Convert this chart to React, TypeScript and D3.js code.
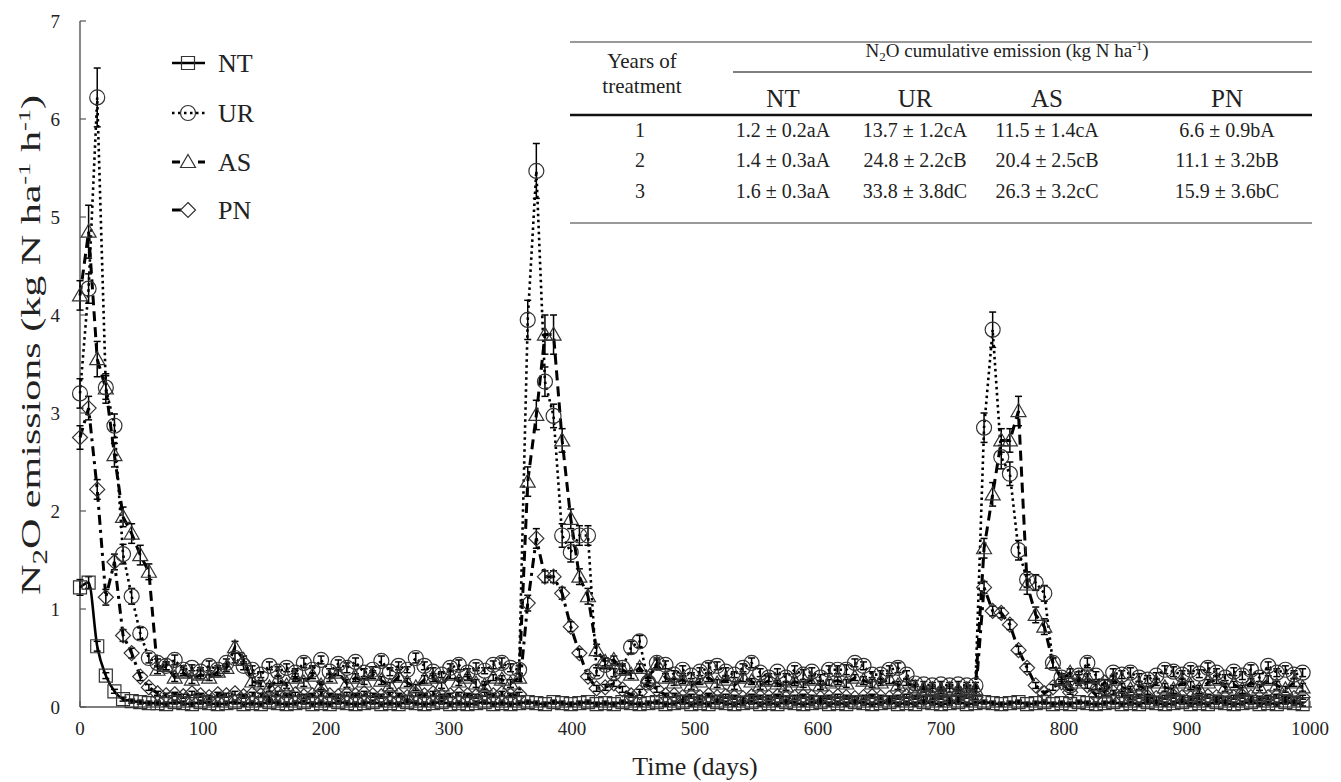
import React from "react";
import * as d3 from "d3";

// ---------------- DATA ----------------
const DAYS = [
  0, 7, 14, 21, 28, 35, 42, 49, 56, 63,
  70, 77, 84, 91, 98, 105, 112, 119, 126, 133,
  140, 147, 154, 161, 168, 175, 182, 189, 196, 203,
  210, 217, 224, 231, 238, 245, 252, 259, 266, 273,
  280, 287, 294, 301, 308, 315, 322, 329, 336, 343,
  350, 357, 364, 371, 378, 385, 392, 399, 406, 413,
  420, 427, 434, 441, 448, 455, 462, 469, 476, 483,
  490, 497, 504, 511, 518, 525, 532, 539, 546, 553,
  560, 567, 574, 581, 588, 595, 602, 609, 616, 623,
  630, 637, 644, 651, 658, 665, 672, 679, 686, 693,
  700, 707, 714, 721, 728, 735, 742, 749, 756, 763,
  770, 777, 784, 791, 798, 805, 812, 819, 826, 833,
  840, 847, 854, 861, 868, 875, 882, 889, 896, 903,
  910, 917, 924, 931, 938, 945, 952, 959, 966, 973,
  980, 987, 994,
];

const NT = [
  1.22, 1.27, 0.62, 0.32, 0.16, 0.08, 0.06, 0.05, 0.04, 0.04,
  0.03, 0.05, 0.04, 0.03, 0.05, 0.04, 0.03, 0.04, 0.05, 0.03,
  0.04, 0.03, 0.05, 0.04, 0.03, 0.04, 0.05, 0.03, 0.04, 0.03,
  0.05, 0.04, 0.03, 0.04, 0.05, 0.03, 0.04, 0.03, 0.05, 0.04,
  0.03, 0.04, 0.05, 0.03, 0.04, 0.03, 0.04, 0.05, 0.03, 0.04,
  0.03, 0.04, 0.05, 0.04, 0.03, 0.05, 0.04, 0.03, 0.04, 0.05,
  0.03, 0.04, 0.03, 0.05, 0.04, 0.03, 0.04, 0.05, 0.03, 0.04,
  0.05, 0.03, 0.04, 0.03, 0.05, 0.04, 0.03, 0.04, 0.05, 0.03,
  0.04, 0.03, 0.05, 0.04, 0.03, 0.04, 0.05, 0.03, 0.04, 0.03,
  0.05, 0.04, 0.03, 0.04, 0.05, 0.03, 0.04, 0.03, 0.05, 0.04,
  0.03, 0.04, 0.05, 0.03, 0.04, 0.05, 0.04, 0.03, 0.04, 0.05,
  0.03, 0.04, 0.05, 0.03, 0.04, 0.03, 0.05, 0.04, 0.03, 0.04,
  0.05, 0.03, 0.04, 0.03, 0.05, 0.04, 0.03, 0.04, 0.05, 0.03,
  0.04, 0.03, 0.05, 0.04, 0.03, 0.04, 0.05, 0.03, 0.04, 0.03,
  0.05, 0.04, 0.03,
];
const NT_ERR = [
  0.08, 0.06, 0.05, 0.03, 0.02, 0.02, 0.02, 0.02, 0.02, 0.02,
  0.02, 0.02, 0.02, 0.02, 0.02, 0.02, 0.02, 0.02, 0.02, 0.02,
  0.02, 0.02, 0.02, 0.02, 0.02, 0.02, 0.02, 0.02, 0.02, 0.02,
  0.02, 0.02, 0.02, 0.02, 0.02, 0.02, 0.02, 0.02, 0.02, 0.02,
  0.02, 0.02, 0.02, 0.02, 0.02, 0.02, 0.02, 0.02, 0.02, 0.02,
  0.02, 0.02, 0.02, 0.02, 0.02, 0.02, 0.02, 0.02, 0.02, 0.02,
  0.02, 0.02, 0.02, 0.02, 0.02, 0.02, 0.02, 0.02, 0.02, 0.02,
  0.02, 0.02, 0.02, 0.02, 0.02, 0.02, 0.02, 0.02, 0.02, 0.02,
  0.02, 0.02, 0.02, 0.02, 0.02, 0.02, 0.02, 0.02, 0.02, 0.02,
  0.02, 0.02, 0.02, 0.02, 0.02, 0.02, 0.02, 0.02, 0.02, 0.02,
  0.02, 0.02, 0.02, 0.02, 0.02, 0.02, 0.02, 0.02, 0.02, 0.02,
  0.02, 0.02, 0.02, 0.02, 0.02, 0.02, 0.02, 0.02, 0.02, 0.02,
  0.02, 0.02, 0.02, 0.02, 0.02, 0.02, 0.02, 0.02, 0.02, 0.02,
  0.02, 0.02, 0.02, 0.02, 0.02, 0.02, 0.02, 0.02, 0.02, 0.02,
  0.02, 0.02, 0.02,
];

const UR = [
  3.2, 4.27, 6.22, 3.26, 2.87, 1.56, 1.13, 0.75, 0.5, 0.45,
  0.42, 0.48, 0.38, 0.4, 0.36, 0.42, 0.38, 0.45, 0.5, 0.42,
  0.38, 0.33, 0.42, 0.36, 0.4, 0.35, 0.45, 0.38, 0.48, 0.36,
  0.44, 0.4, 0.46, 0.35, 0.38, 0.47, 0.36, 0.42, 0.38, 0.5,
  0.42, 0.36, 0.33, 0.4, 0.43, 0.35, 0.41, 0.37, 0.43, 0.45,
  0.4, 0.38, 3.95, 5.47, 3.32, 2.97, 1.75, 1.58, 1.75, 1.75,
  0.36, 0.43, 0.35, 0.4, 0.61, 0.67, 0.25, 0.45, 0.43, 0.33,
  0.38, 0.32, 0.36, 0.4, 0.42, 0.36, 0.33, 0.4, 0.45, 0.35,
  0.3, 0.36, 0.3, 0.38, 0.33, 0.36, 0.3, 0.38, 0.38, 0.38,
  0.45, 0.42, 0.33, 0.33, 0.38, 0.4, 0.33, 0.24, 0.23, 0.22,
  0.23, 0.22, 0.23, 0.22, 0.22, 2.85, 3.85, 2.55, 2.38, 1.6,
  1.3, 1.27, 1.16, 0.45, 0.3, 0.22, 0.32, 0.45, 0.32, 0.2,
  0.35, 0.33, 0.35, 0.3, 0.28, 0.32, 0.38, 0.36, 0.33, 0.38,
  0.34, 0.4, 0.35, 0.3, 0.36, 0.32, 0.38, 0.3, 0.42, 0.35,
  0.38, 0.33, 0.35,
];
const UR_ERR = [
  0.15, 0.15, 0.3, 0.12, 0.12, 0.1, 0.08, 0.06, 0.05, 0.04,
  0.04, 0.05, 0.04, 0.03, 0.04, 0.05, 0.04, 0.04, 0.05, 0.04,
  0.04, 0.03, 0.04, 0.05, 0.04, 0.04, 0.05, 0.04, 0.04, 0.03,
  0.04, 0.05, 0.04, 0.04, 0.03, 0.05, 0.04, 0.04, 0.03, 0.05,
  0.04, 0.04, 0.03, 0.04, 0.05, 0.04, 0.04, 0.03, 0.04, 0.05,
  0.04, 0.04, 0.2, 0.28, 0.15, 0.12, 0.12, 0.1, 0.1, 0.1,
  0.04, 0.04, 0.04, 0.04, 0.06, 0.06, 0.04, 0.05, 0.04, 0.04,
  0.04, 0.03, 0.04, 0.05, 0.04, 0.04, 0.03, 0.04, 0.05, 0.04,
  0.04, 0.03, 0.04, 0.04, 0.05, 0.04, 0.03, 0.04, 0.04, 0.05,
  0.04, 0.04, 0.03, 0.04, 0.04, 0.05, 0.04, 0.03, 0.03, 0.03,
  0.03, 0.03, 0.03, 0.03, 0.03, 0.15, 0.18, 0.12, 0.12, 0.1,
  0.08, 0.08, 0.08, 0.05, 0.04, 0.04, 0.04, 0.05, 0.04, 0.04,
  0.04, 0.04, 0.05, 0.04, 0.04, 0.03, 0.04, 0.05, 0.04, 0.04,
  0.04, 0.05, 0.04, 0.03, 0.04, 0.04, 0.05, 0.04, 0.04, 0.04,
  0.04, 0.04, 0.04,
];

const AS = [
  4.2, 4.85, 3.55, 3.25, 2.57, 1.94, 1.77, 1.55, 1.38, 0.38,
  0.42, 0.3, 0.35, 0.28, 0.33, 0.3, 0.36, 0.4, 0.61, 0.48,
  0.26, 0.24, 0.2, 0.28, 0.22, 0.3, 0.25, 0.32, 0.22, 0.3,
  0.35, 0.24, 0.3, 0.26, 0.33, 0.27, 0.22, 0.31, 0.25, 0.2,
  0.28, 0.3, 0.22, 0.33, 0.26, 0.3, 0.24, 0.22, 0.3, 0.28,
  0.24, 0.3, 2.3, 2.98, 3.8, 3.8, 2.72, 1.92, 1.33, 1.13,
  0.58, 0.46, 0.48, 0.38, 0.33, 0.4, 0.3, 0.44, 0.3, 0.25,
  0.28, 0.22, 0.26, 0.3, 0.24, 0.28, 0.22, 0.3, 0.26, 0.22,
  0.27, 0.24, 0.21, 0.26, 0.23, 0.28, 0.22, 0.25, 0.27, 0.24,
  0.3, 0.27, 0.24, 0.25, 0.28, 0.22, 0.25, 0.2, 0.18, 0.18,
  0.17, 0.18, 0.17, 0.18, 0.18, 1.62, 2.17, 2.72, 2.72, 3.02,
  1.25, 0.94, 0.82, 0.45, 0.28, 0.35, 0.25, 0.3, 0.22, 0.15,
  0.28, 0.2, 0.18, 0.22, 0.17, 0.25, 0.2, 0.18, 0.25, 0.22,
  0.18, 0.25, 0.28, 0.2, 0.23, 0.18, 0.25, 0.2, 0.28, 0.22,
  0.18, 0.25, 0.2,
];
const AS_ERR = [
  0.15, 0.27, 0.18, 0.15, 0.12, 0.1, 0.1, 0.1, 0.08, 0.04,
  0.04, 0.04, 0.03, 0.04, 0.04, 0.03, 0.04, 0.04, 0.06, 0.04,
  0.04, 0.03, 0.04, 0.04, 0.03, 0.04, 0.04, 0.03, 0.04, 0.04,
  0.03, 0.04, 0.04, 0.03, 0.04, 0.04, 0.03, 0.04, 0.04, 0.03,
  0.04, 0.04, 0.03, 0.04, 0.04, 0.03, 0.04, 0.04, 0.03, 0.04,
  0.04, 0.04, 0.15, 0.15, 0.2, 0.2, 0.12, 0.1, 0.08, 0.08,
  0.06, 0.04, 0.04, 0.04, 0.04, 0.04, 0.03, 0.04, 0.04, 0.03,
  0.04, 0.04, 0.03, 0.04, 0.04, 0.03, 0.04, 0.04, 0.03, 0.04,
  0.04, 0.03, 0.04, 0.04, 0.03, 0.04, 0.04, 0.03, 0.04, 0.04,
  0.03, 0.04, 0.04, 0.03, 0.04, 0.04, 0.03, 0.03, 0.03, 0.03,
  0.03, 0.03, 0.03, 0.03, 0.03, 0.1, 0.12, 0.12, 0.12, 0.15,
  0.1, 0.08, 0.08, 0.05, 0.04, 0.04, 0.03, 0.04, 0.04, 0.03,
  0.04, 0.04, 0.03, 0.04, 0.04, 0.03, 0.04, 0.04, 0.03, 0.04,
  0.04, 0.03, 0.04, 0.04, 0.03, 0.04, 0.04, 0.03, 0.04, 0.04,
  0.03, 0.04, 0.04,
];

const PN = [
  2.75, 3.05, 2.22, 1.12, 1.48, 0.73, 0.55, 0.31, 0.2, 0.14,
  0.12, 0.13, 0.11, 0.14, 0.12, 0.1, 0.13, 0.12, 0.14, 0.11,
  0.13, 0.12, 0.1, 0.14, 0.12, 0.13, 0.11, 0.12, 0.14, 0.12,
  0.11, 0.13, 0.12, 0.14, 0.12, 0.11, 0.13, 0.12, 0.1, 0.13,
  0.12, 0.14, 0.11, 0.12, 0.13, 0.12, 0.11, 0.13, 0.12, 0.14,
  0.12, 0.13, 1.06, 1.72, 1.33, 1.33, 1.16, 0.82, 0.55, 0.31,
  0.19, 0.2, 0.24, 0.18, 0.12, 0.15, 0.26, 0.18, 0.12, 0.12,
  0.1, 0.11, 0.1, 0.12, 0.1, 0.11, 0.1, 0.09, 0.11, 0.1,
  0.1, 0.11, 0.09, 0.1, 0.11, 0.1, 0.09, 0.1, 0.11, 0.1,
  0.09, 0.1, 0.11, 0.1, 0.09, 0.1, 0.11, 0.1, 0.09, 0.1,
  0.1, 0.09, 0.1, 0.11, 0.1, 1.22, 0.98, 0.96, 0.84, 0.58,
  0.4, 0.22, 0.14, 0.2, 0.25, 0.15, 0.3, 0.22, 0.12, 0.25,
  0.15, 0.12, 0.1, 0.11, 0.1, 0.09, 0.1, 0.11, 0.1, 0.09,
  0.1, 0.11, 0.1, 0.09, 0.1, 0.11, 0.1, 0.09, 0.1, 0.11,
  0.1, 0.09, 0.1,
];
const PN_ERR = [
  0.12, 0.12, 0.1, 0.08, 0.08, 0.06, 0.05, 0.04, 0.03, 0.02,
  0.02, 0.02, 0.02, 0.02, 0.02, 0.02, 0.02, 0.02, 0.02, 0.02,
  0.02, 0.02, 0.02, 0.02, 0.02, 0.02, 0.02, 0.02, 0.02, 0.02,
  0.02, 0.02, 0.02, 0.02, 0.02, 0.02, 0.02, 0.02, 0.02, 0.02,
  0.02, 0.02, 0.02, 0.02, 0.02, 0.02, 0.02, 0.02, 0.02, 0.02,
  0.02, 0.02, 0.08, 0.1, 0.06, 0.06, 0.06, 0.05, 0.04, 0.03,
  0.03, 0.03, 0.03, 0.03, 0.02, 0.03, 0.04, 0.03, 0.02, 0.02,
  0.02, 0.02, 0.02, 0.02, 0.02, 0.02, 0.02, 0.02, 0.02, 0.02,
  0.02, 0.02, 0.02, 0.02, 0.02, 0.02, 0.02, 0.02, 0.02, 0.02,
  0.02, 0.02, 0.02, 0.02, 0.02, 0.02, 0.02, 0.02, 0.02, 0.02,
  0.02, 0.02, 0.02, 0.02, 0.02, 0.06, 0.05, 0.05, 0.05, 0.04,
  0.04, 0.03, 0.02, 0.03, 0.03, 0.02, 0.03, 0.03, 0.02, 0.03,
  0.02, 0.02, 0.02, 0.02, 0.02, 0.02, 0.02, 0.02, 0.02, 0.02,
  0.02, 0.02, 0.02, 0.02, 0.02, 0.02, 0.02, 0.02, 0.02, 0.02,
  0.02, 0.02, 0.02,
];

const X_TICKS = [0, 100, 200, 300, 400, 500, 600, 700, 800, 900, 1000];
const Y_TICKS = [0, 1, 2, 3, 4, 5, 6, 7];

const TABLE_YEARS = ["1", "2", "3"];
const TABLE_COLS = ["NT", "UR", "AS", "PN"];
const TABLE_NT = ["1.2 ± 0.2aA", "1.4 ± 0.3aA", "1.6 ± 0.3aA"];
const TABLE_UR = ["13.7 ± 1.2cA", "24.8 ± 2.2cB", "33.8 ± 3.8dC"];
const TABLE_AS = ["11.5 ± 1.4cA", "20.4 ± 2.5cB", "26.3 ± 3.2cC"];
const TABLE_PN = ["6.6 ± 0.9bA", "11.1 ± 3.2bB", "15.9 ± 3.6bC"];

// ---------------- STYLE ----------------
const FONT = "Liberation Serif, Times New Roman, serif";
const W = 1341;
const H = 782;

type MarkerKind = "square" | "circle" | "triangle" | "diamond";

const SERIES = [
  { name: "NT", values: NT, err: NT_ERR, marker: "square" as MarkerKind, dash: "", legendDash: "", width: 2.6, smooth: true },
  { name: "UR", values: UR, err: UR_ERR, marker: "circle" as MarkerKind, dash: "2.5 3.5", legendDash: "2.5 3.5", width: 2.6, smooth: false },
  { name: "AS", values: AS, err: AS_ERR, marker: "triangle" as MarkerKind, dash: "10 6", legendDash: "8 18", width: 3, smooth: false },
  { name: "PN", values: PN, err: PN_ERR, marker: "diamond" as MarkerKind, dash: "10 5 3 5", legendDash: "9 40", width: 3, smooth: false },
];

function Marker({ kind, cx, cy }: { kind: MarkerKind; cx: number; cy: number }) {
  const common = { fill: "none", stroke: "#333", strokeWidth: 1.2 };
  if (kind === "circle") return <circle cx={cx} cy={cy} r={7.5} {...common} />;
  if (kind === "square") return <path d={`M${cx - 6.5},${cy - 6.5}h13v13h-13z`} {...common} />;
  if (kind === "triangle")
    return <path d={`M${cx},${cy - 7.5}L${cx + 7.5},${cy + 5.5}L${cx - 7.5},${cy + 5.5}Z`} {...common} />;
  return <path d={`M${cx},${cy - 7.5}L${cx + 7.5},${cy}L${cx},${cy + 7.5}L${cx - 7.5},${cy}Z`} {...common} />;
}

export default function App() {
  const x = d3.scaleLinear().domain([0, 1000]).range([80, 1310]);
  const y = d3.scaleLinear().domain([0, 7]).range([707, 21]);

  const lines = SERIES.map((s) => {
    const gen = d3
      .line<number>()
      .x((_, i) => x(DAYS[i]))
      .y((v) => y(v))
      .curve(s.smooth ? d3.curveMonotoneX : d3.curveLinear);
    return gen(s.values) || "";
  });

  const legendY = [63, 113, 162, 210];
  const tableRows = [137, 167, 198];
  const colX = [783, 915, 1047, 1227];
  const tableCols = [TABLE_NT, TABLE_UR, TABLE_AS, TABLE_PN];

  return (
    <svg
      width={W}
      height={H}
      style={{ position: "absolute", left: 0, top: 0, background: "#fff" }}
      fontFamily={FONT}
    >
      <rect x={0} y={0} width={W} height={H} fill="#fff" />
      {/* axes */}
      <line x1={80} y1={y(7)} x2={80} y2={707} stroke="#555" strokeWidth={1.4} />
      <line x1={80} y1={707} x2={1312} y2={707} stroke="#555" strokeWidth={1.4} />
      {Y_TICKS.map((t) => (
        <g key={"yt" + t}>
          <line x1={80} x2={86} y1={y(t)} y2={y(t)} stroke="#555" strokeWidth={1.2} />
          <text x={60} y={y(t)} dy="0.35em" textAnchor="end" fontSize={19} fill="#222">
            {t}
          </text>
        </g>
      ))}
      {X_TICKS.map((t) => (
        <g key={"xt" + t}>
          <line x1={x(t)} x2={x(t)} y1={707} y2={701} stroke="#555" strokeWidth={1.2} />
          <text x={x(t)} y={735} textAnchor="middle" fontSize={19} fill="#222">
            {t}
          </text>
        </g>
      ))}
      {/* axis titles */}
      <text x={695} y={775} textAnchor="middle" fontSize={26} fill="#222">
        Time (days)
      </text>
      <text
        transform="translate(40,345) rotate(-90)"
        textAnchor="middle"
        fontSize={27}
        fill="#222"
        textLength={500}
        lengthAdjust="spacingAndGlyphs"
      >
        N<tspan fontSize={20} dy={7}>2</tspan>
        <tspan dy={-7}>O emissions (kg N ha</tspan>
        <tspan fontSize={17} dy={-10}>-1</tspan>
        <tspan dy={10}> h</tspan>
        <tspan fontSize={17} dy={-10}>-1</tspan>
        <tspan dy={10}>)</tspan>
      </text>

      {/* series lines */}
      {SERIES.map((s, k) => (
        <path
          key={"l" + s.name}
          d={lines[k]}
          fill="none"
          stroke="#000"
          strokeWidth={s.width}
          strokeDasharray={s.dash || undefined}
        />
      ))}
      {/* error bars */}
      {SERIES.map((s) => (
        <g key={"e" + s.name}>
          {s.values.map((v, i) => {
            const cx = x(DAYS[i]);
            const y1 = y(v + s.err[i]);
            const y2 = y(Math.max(0, v - s.err[i]));
            return (
              <g key={i}>
                <line x1={cx} x2={cx} y1={y1} y2={y2} stroke="#000" strokeWidth={1.5} />
                <line x1={cx - 3.5} x2={cx + 3.5} y1={y1} y2={y1} stroke="#000" strokeWidth={1.5} />
                <line x1={cx - 3.5} x2={cx + 3.5} y1={y2} y2={y2} stroke="#000" strokeWidth={1.5} />
              </g>
            );
          })}
        </g>
      ))}
      {/* markers */}
      {SERIES.map((s) => (
        <g key={"m" + s.name}>
          {s.values.map((v, i) => (
            <Marker key={i} kind={s.marker} cx={x(DAYS[i])} cy={y(v)} />
          ))}
        </g>
      ))}

      {/* legend */}
      {SERIES.map((s, k) => (
        <g key={"lg" + s.name}>
          <line
            x1={172}
            x2={205}
            y1={legendY[k]}
            y2={legendY[k]}
            stroke="#000"
            strokeWidth={s.width}
            strokeDasharray={s.legendDash || undefined}
          />
          <Marker kind={s.marker} cx={188} cy={legendY[k]} />
          <text x={218} y={legendY[k] + 9} fontSize={26} fill="#222">
            {s.name}
          </text>
        </g>
      ))}

      {/* table */}
      <line x1={570} x2={1312} y1={42} y2={42} stroke="#777" strokeWidth={1.5} />
      <line x1={733} x2={1312} y1={72} y2={72} stroke="#555" strokeWidth={1.5} />
      <line x1={570} x2={1312} y1={115} y2={115} stroke="#111" strokeWidth={2.5} />
      <line x1={570} x2={1312} y1={223} y2={223} stroke="#777" strokeWidth={1.5} />
      <text x={642} y={68} textAnchor="middle" fontSize={21} fill="#222">Years of</text>
      <text x={642} y={93} textAnchor="middle" fontSize={21} fill="#222">treatment</text>
      <text x={1007} y={57} textAnchor="middle" fontSize={19} fill="#222">
        N<tspan fontSize={13} dy={4}>2</tspan>
        <tspan dy={-4}>O cumulative emission (kg N ha</tspan>
        <tspan fontSize={12} dy={-7}>-1</tspan>
        <tspan dy={7}>)</tspan>
      </text>
      {TABLE_COLS.map((c, j) => (
        <text key={"th" + c} x={colX[j]} y={107} textAnchor="middle" fontSize={25} fill="#222">
          {c}
        </text>
      ))}
      {TABLE_YEARS.map((yr, r) => (
        <g key={"tr" + yr}>
          <text x={640} y={tableRows[r]} textAnchor="middle" fontSize={20} fill="#222">{yr}</text>
          {tableCols.map((col, j) => (
            <text key={j} x={colX[j]} y={tableRows[r]} textAnchor="middle" fontSize={20} fill="#222">
              {col[r]}
            </text>
          ))}
        </g>
      ))}
    </svg>
  );
}
